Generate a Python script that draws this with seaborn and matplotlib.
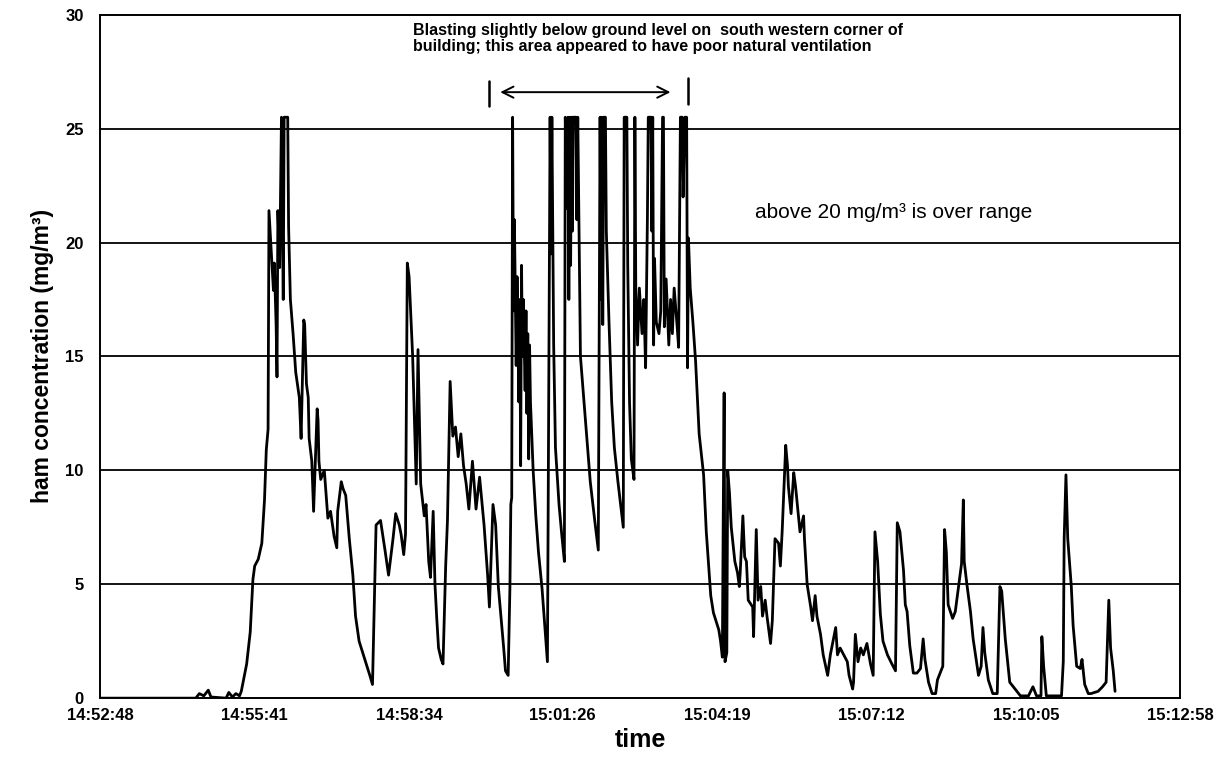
import matplotlib
matplotlib.use("Agg")
import matplotlib.pyplot as plt
import pandas as pd
import seaborn as sns

# ---------------- data (elapsed seconds since 14:52:48, concentration mg/m3) -------------
start_label = "14:52:48"
tick_labels = ["14:52:48", "14:55:41", "14:58:34", "15:01:26",
               "15:04:19", "15:07:12", "15:10:05", "15:12:58"]
y_ticks = [0, 5, 10, 15, 20, 25, 30]

rise_t = [0, 107, 111, 116, 121, 124, 141, 144, 148, 152,
          156, 158, 161, 164, 168, 171, 173, 177, 181, 184,
          186, 188, 189, 191, 194, 195, 197, 198, 199, 201,
          203, 205, 206, 210, 211, 213, 216, 219, 223, 225,
          228, 229, 231, 233, 234, 237, 239, 243, 244, 245,
          247, 251, 255, 258, 262, 265, 266, 270, 272, 275,
          279, 283, 286, 290, 294, 298, 302, 305, 309, 314,
          319, 323, 328, 331, 335, 337, 340, 342, 344, 346,
          347, 350, 354, 356, 359, 363, 365, 368, 370, 373,
          375, 377, 379, 382, 384, 387, 389, 392, 394, 395,
          398, 401, 404, 407, 410, 413, 417, 421, 425, 430,
          434, 436, 440, 443, 446, 452, 454, 457, 459, 460,
          461]
rise_v = [0, 0, 0.2, 0.1, 0.35, 0.05, 0, 0.25, 0.05, 0.2,
          0.1, 0.3, 0.9, 1.5, 2.9, 5.2, 5.8, 6.1, 6.8, 8.7,
          10.9, 11.8, 21.4, 20, 17.9, 19.1, 16.4, 14.1, 21.4, 18.9,
          25.5, 17.5, 25.5, 25.5, 20.7, 17.5, 16, 14.3, 13.2, 11.4,
          16.6, 16.4, 13.8, 13.2, 11.4, 10.4, 8.2, 12.7, 12.2, 10.4,
          9.6, 10, 7.9, 8.2, 7.1, 6.6, 8.2, 9.5, 9.2, 8.9,
          7, 5.4, 3.6, 2.5, 2, 1.5, 1.0, 0.6, 7.6, 7.8,
          6.5, 5.4, 7, 8.1, 7.6, 7.2, 6.3, 7.2, 19.1, 18.5,
          17.6, 15, 9.4, 15.3, 9.4, 8, 8.5, 6, 5.3, 8.2,
          5, 3.5, 2.2, 1.7, 1.5, 5.8, 7.8, 13.9, 12.3, 11.5,
          11.9, 10.6, 11.6, 10.2, 9.4, 8.3, 10.4, 8.3, 9.7, 7.6,
          5.4, 4, 8.5, 7.6, 4.9, 2.2, 1.2, 1, 4.9, 8.5,
          8.8]

blast_t = [462, 463, 464, 466, 467, 469, 470, 471, 472, 473,
           474, 476, 477, 478, 479, 480, 481, 482, 485, 488,
           491, 495, 498, 501, 504, 505, 506, 508, 510, 514,
           517, 520, 521, 523, 524, 525, 526, 527, 528, 529,
           530, 533, 534, 535, 538, 542, 545, 549, 554, 558,
           560, 561, 562, 563, 564, 566, 567, 570, 573, 576,
           580, 583, 586, 587, 590, 591, 593, 595, 598, 599,
           600, 602, 604, 607, 609, 611, 613, 614, 617, 618,
           619, 620, 621, 623, 626, 628, 630, 631, 632, 634,
           637, 639, 641, 643, 646, 648, 650, 652, 653, 655,
           657, 658, 659, 661, 664, 667]
blast_v = [25.5, 17, 21, 14.6, 18.5, 13, 17.5, 10.2, 19, 15,
           17.5, 13.5, 17, 12.5, 16, 10.5, 15.5, 13, 10, 8,
           6.4, 4.8, 3.2, 1.6, 25.5, 19.5, 25.5, 15.5, 11, 8.5,
           7.2, 6, 25.5, 21.5, 25.5, 17.5, 25.5, 19, 25.5, 20.5,
           25.5, 25.5, 21, 25.5, 15, 13, 11.5, 9.5, 7.8, 6.5,
           25.5, 17.5, 25.5, 16.4, 25.5, 25.5, 20.5, 16.5, 13, 11,
           9.5, 8.5, 7.5, 25.5, 25.5, 19, 13, 10.5, 9.6, 25.5,
           18, 15.5, 18, 16, 17.5, 14.5, 21, 25.5, 25.5, 20.5,
           25.5, 15.5, 19.3, 16.5, 16, 17, 25.5, 25.5, 16.3, 18.4,
           15.5, 17.5, 16, 18, 16.5, 15.4, 25.5, 25.5, 22, 25.5,
           25.5, 14.5, 20.2, 18, 16.5, 14.8]

tail_t = [671, 676, 679, 684, 687, 693, 695, 697, 698, 699,
          700, 702, 703, 705, 707, 711, 714, 716, 717, 720,
          722, 724, 726, 731, 732, 735, 737, 740, 742, 745,
          747, 751, 753, 756, 760, 762, 764, 768, 770, 771,
          774, 777, 779, 782, 784, 788, 789, 792, 796, 798,
          801, 803, 807, 810, 815, 818, 824, 826, 829, 833,
          837, 839, 843, 844, 846, 849, 852, 855, 859, 863,
          866, 868, 871, 874, 877, 882, 887, 891, 893, 896,
          900, 902, 904, 907, 911, 915, 919, 922, 924, 928,
          932, 936, 938, 941, 944, 946, 948, 950, 955, 958,
          961, 965, 967, 968, 971, 975, 978, 984, 987, 989,
          991, 995, 1000, 1005, 1008, 1010, 1014, 1019, 1025, 1031,
          1040, 1045, 1049, 1054, 1055, 1057, 1060, 1077, 1079, 1080,
          1082, 1084, 1088, 1090, 1094, 1098, 1100, 1103, 1107, 1110,
          1118, 1123, 1127, 1130, 1132, 1135, 1137]
tail_v = [11.6, 9.8, 7.3, 4.5, 3.75, 3, 2.5, 1.8, 8, 13.4,
          1.6, 2, 10, 9, 7.5, 6, 5.5, 4.9, 5.5, 8,
          6.2, 6, 4.3, 4, 2.7, 7.4, 4.3, 4.9, 3.6, 4.3,
          3.6, 2.4, 3.4, 7, 6.8, 5.8, 7.3, 11.1, 10.2, 9.3,
          8.1, 9.9, 9.3, 8.1, 7.3, 8, 7, 5, 4, 3.4,
          4.5, 3.6, 2.8, 1.9, 1, 1.9, 3.1, 1.9, 2.2, 1.9,
          1.6, 1, 0.4, 0.7, 2.8, 1.6, 2.2, 1.9, 2.4, 1.5,
          1, 7.3, 6, 3.7, 2.5, 1.9, 1.5, 1.2, 7.7, 7.3,
          5.6, 4.1, 3.8, 2.3, 1.1, 1.1, 1.3, 2.6, 1.7, 0.7,
          0.2, 0.2, 0.8, 1.1, 1.4, 7.4, 6.4, 4.1, 3.5, 3.8,
          4.7, 5.9, 8.7, 6, 5, 3.8, 2.6, 1, 1.4, 3.1,
          2, 0.8, 0.2, 0.2, 4.9, 4.7, 2.6, 0.7, 0.4, 0.1,
          0.1, 0.5, 0.1, 0.1, 2.7, 1.4, 0.1, 0.1, 1.6, 7,
          9.8, 7, 4.9, 3.2, 1.4, 1.3, 1.7, 0.6, 0.2, 0.2,
          0.3, 0.5, 0.7, 4.3, 2.2, 1.2, 0.3]

blast_note = ("Blasting slightly below ground level on  south western corner of\n"
              "building; this area appeared to have poor natural ventilation")
range_note = "above 20 mg/m\u00b3 is over range"


def secs(label):
    h, m, s = (int(p) for p in label.split(":"))
    return h * 3600 + m * 60 + s


tick_pos = [secs(l) - secs(start_label) for l in tick_labels]

df = pd.DataFrame({"t": rise_t + blast_t + tail_t,
                   "v": rise_v + blast_v + tail_v})

# ---------------- drawing ----------------
sns.set_style("white")
plt.rcParams["font.family"] = ["Liberation Sans", "DejaVu Sans"]
for key in ("text.color", "axes.labelcolor", "xtick.color", "ytick.color"):
    plt.rcParams[key] = "black"

fig = plt.figure(figsize=(12.23, 7.74), dpi=100)
ax = fig.add_axes([0.082, 0.098, 0.883, 0.883])

for y in y_ticks[1:-1]:
    ax.axhline(y, color="black", lw=1.3, zorder=1)

sns.lineplot(data=df, x="t", y="v", color="black", lw=2.0, ax=ax,
             estimator=None, sort=False, zorder=3)

ax.set_xlim(tick_pos[0], tick_pos[-1])
ax.set_ylim(y_ticks[0], y_ticks[-1])
ax.set_yticks(y_ticks)
ax.set_xticks(tick_pos)
ax.set_xticklabels(tick_labels)
ax.tick_params(axis="both", direction="inout", length=6, width=1.0,
               colors="black", labelsize=12)
ax.tick_params(axis="x", pad=4)
ax.tick_params(axis="y", pad=9)
for lab in ax.get_xticklabels() + ax.get_yticklabels():
    lab.set_fontweight("bold")
for sp in ax.spines.values():
    sp.set_color("black")
    sp.set_linewidth(1.4)

ax.set_xlabel("time", fontsize=18, fontweight="bold", labelpad=4)
ax.set_ylabel("ham concentration (mg/m\u00b3)", fontsize=16.5, fontweight="bold", labelpad=8)

# annotations
ax.text(350, 29.65, blast_note, ha="left", va="top", fontsize=11.5,
        fontweight="bold", linespacing=1.15)
ax.annotate("", xy=(445, 26.6), xytext=(642, 26.6),
            arrowprops=dict(arrowstyle="<->", color="black", lw=1.4,
                            mutation_scale=20))
ax.plot([435, 435], [26.0, 27.1], color="black", lw=1.8)
ax.plot([658, 658], [26.1, 27.2], color="black", lw=1.8)
ax.text(734, 21.3, range_note, ha="left", va="center", fontsize=15)

fig.savefig("out.png", dpi=100)
